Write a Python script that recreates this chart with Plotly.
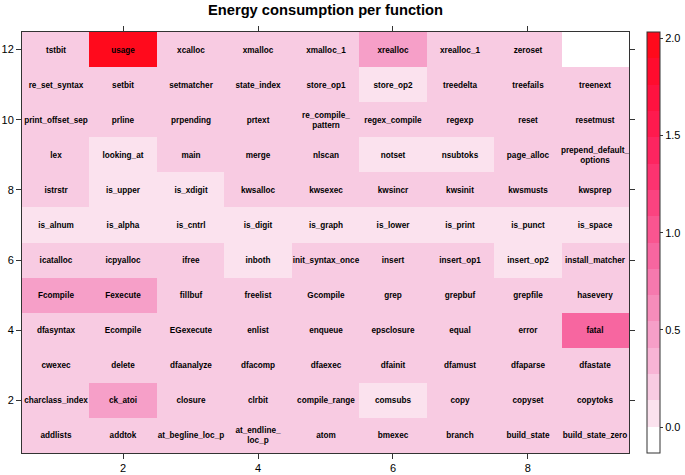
import plotly.graph_objects as go

# function names, filled row by row from the bottom-left cell
functions = [
    "addlists", "addtok", "at_begline_loc_p", "at_endline_<br>loc_p", "atom",
    "bmexec", "branch", "build_state", "build_state_zero",
    "charclass_index", "ck_atoi", "closure", "clrbit", "compile_range",
    "comsubs", "copy", "copyset", "copytoks",
    "cwexec", "delete", "dfaanalyze", "dfacomp", "dfaexec",
    "dfainit", "dfamust", "dfaparse", "dfastate",
    "dfasyntax", "Ecompile", "EGexecute", "enlist", "enqueue",
    "epsclosure", "equal", "error", "fatal",
    "Fcompile", "Fexecute", "fillbuf", "freelist", "Gcompile",
    "grep", "grepbuf", "grepfile", "hasevery",
    "icatalloc", "icpyalloc", "ifree", "inboth", "init_syntax_once",
    "insert", "insert_op1", "insert_op2", "install_matcher",
    "is_alnum", "is_alpha", "is_cntrl", "is_digit", "is_graph",
    "is_lower", "is_print", "is_punct", "is_space",
    "istrstr", "is_upper", "is_xdigit", "kwsalloc", "kwsexec",
    "kwsincr", "kwsinit", "kwsmusts", "kwsprep",
    "lex", "looking_at", "main", "merge", "nlscan",
    "notset", "nsubtoks", "page_alloc", "prepend_default_<br>options",
    "print_offset_sep", "prline", "prpending", "prtext", "re_compile_<br>pattern",
    "regex_compile", "regexp", "reset", "resetmust",
    "re_set_syntax", "setbit", "setmatcher", "state_index", "store_op1",
    "store_op2", "treedelta", "treefails", "treenext",
    "tstbit", "usage", "xcalloc", "xmalloc", "xmalloc_1",
    "xrealloc", "xrealloc_1", "zeroset",
]

# estimated energy per function (same order)
energy = [
    0.21, 0.20, 0.22, 0.19, 0.20, 0.21, 0.20, 0.22, 0.21,
    0.20, 0.48, 0.21, 0.20, 0.19, 0.08, 0.20, 0.21, 0.20,
    0.20, 0.21, 0.22, 0.20, 0.21, 0.20, 0.19, 0.21, 0.22,
    0.21, 0.20, 0.22, 0.20, 0.21, 0.20, 0.19, 0.21, 0.82,
    0.49, 0.47, 0.21, 0.20, 0.22, 0.21, 0.20, 0.21, 0.20,
    0.21, 0.20, 0.19, 0.08, 0.21, 0.20, 0.22, 0.09, 0.21,
    0.08, 0.07, 0.08, 0.09, 0.08, 0.07, 0.08, 0.09, 0.08,
    0.20, 0.08, 0.09, 0.21, 0.20, 0.21, 0.20, 0.22, 0.21,
    0.20, 0.08, 0.21, 0.20, 0.21, 0.09, 0.08, 0.20, 0.21,
    0.22, 0.20, 0.21, 0.20, 0.21, 0.20, 0.19, 0.21, 0.20,
    0.21, 0.20, 0.21, 0.20, 0.21, 0.09, 0.20, 0.21, 0.22,
    0.20, 1.90, 0.21, 0.20, 0.21, 0.47, 0.20, 0.21,
]

n_cols = 9
n_rows = 12

# 16-step palette from white to red (lattice style cuts)
palette = [
    "#FFFFFF", "#FBE2EE", "#F8CBE2", "#F7B4D5", "#F69FC8", "#F68CBA",
    "#F679AE", "#F766A0", "#F95590", "#FB4380", "#FC3370", "#FD2560",
    "#FE1A4E", "#FE1240", "#FF0C2E", "#FF0A1C",
]
zmin, zmax = -0.133, 2.033

colorscale = []
for k, c in enumerate(palette):
    colorscale.append([k / len(palette), c])
    colorscale.append([(k + 1) / len(palette), c])

z = [[None] * n_cols for _ in range(n_rows)]
text = [[""] * n_cols for _ in range(n_rows)]
for i, (name, val) in enumerate(zip(functions, energy)):
    r, c = divmod(i, n_cols)
    z[r][c] = val
    text[r][c] = name

W, H = 685, 475
FONT = "Liberation Sans"

fig = go.Figure(go.Heatmap(
    z=z,
    x=list(range(1, n_cols + 1)),
    y=list(range(1, n_rows + 1)),
    text=text,
    texttemplate="%{text}",
    textfont=dict(family=FONT, size=8.2, color="black", weight="bold"),
    colorscale=colorscale,
    zmin=zmin, zmax=zmax,
    xgap=0, ygap=0,
    hoverongaps=False,
    colorbar=dict(
        xref="container", x=647 / W, xanchor="left", xpad=0, ypad=0,
        y=0.5, yanchor="middle", len=1, lenmode="fraction",
        thickness=13,
        outlinewidth=1, outlinecolor="#333",
        tickvals=[0, 0.5, 1, 1.5, 2],
        ticktext=["0.0", "0.5", "1.0", "1.5", "2.0"],
        ticks="outside", ticklen=3, tickcolor="#333",
        tickfont=dict(family=FONT, size=11, color="black"),
    ),
))

axis_style = dict(
    showgrid=False, zeroline=False, automargin=False,
    showline=True, linecolor="#333", linewidth=1, mirror="ticks",
    ticks="outside", ticklen=5, tickcolor="#333",
    tickfont=dict(family=FONT, size=11, color="black"),
)

fig.update_xaxes(range=[0.5, n_cols + 0.5], tickvals=[2, 4, 6, 8], **axis_style)
fig.update_yaxes(range=[0.5, n_rows + 0.5], tickvals=[2, 4, 6, 8, 10, 12], **axis_style)

fig.update_layout(
    width=W, height=H,
    margin=dict(l=22, r=56, t=32, b=22),
    paper_bgcolor="white", plot_bgcolor="white",
    title=dict(
        text="<b>Energy consumption per function</b>",
        x=0.5, xref="paper", xanchor="center",
        y=1 - 10 / H, yref="container", yanchor="middle",
        font=dict(family=FONT, size=14.7, color="black"),
    ),
)

# drop the browser's default 8px body margin so the figure sits at (0, 0)
fig.write_html(
    "out.html",
    config={"displayModeBar": False},
    post_script="document.body.style.margin = '0';",
)
